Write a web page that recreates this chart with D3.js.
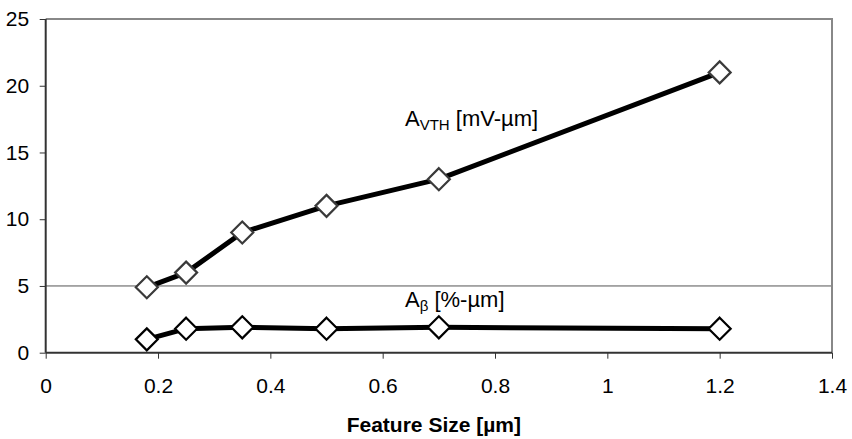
<!DOCTYPE html>
<html>
<head>
<meta charset="utf-8">
<script src="https://cdn.jsdelivr.net/npm/d3@7"></script>
<style>
  html, body { margin: 0; padding: 0; background: #fff; }
  svg { display: block; font-family: "Liberation Sans", Arial, sans-serif; }
</style>
</head>
<body>
<svg id="chart" width="852" height="439"></svg>
<script>
// Feature size (µm) for each measured process node
const featureSize = [0.18, 0.25, 0.35, 0.5, 0.7, 1.2];
// Threshold-voltage matching coefficient A_VTH [mV-µm]
const aVth = [4.9, 6, 9, 11, 13, 21];
// Current-factor matching coefficient A_β [%-µm]
const aBeta = [1.0, 1.8, 1.9, 1.8, 1.9, 1.8];

const xTicks = [0, 0.2, 0.4, 0.6, 0.8, 1, 1.2, 1.4];
const yTicks = [0, 5, 10, 15, 20, 25];
const gridValues = [5];

const svg = d3.select("#chart");
const plotLeft = 45.7, plotRight = 832, plotTop = 19, plotBottom = 352.7;

const x = d3.scaleLinear().domain([0, 1.4]).range([plotLeft, plotRight]);
const y = d3.scaleLinear().domain([0, 25]).range([plotBottom, plotTop]);

// horizontal gridline
svg.append("g").selectAll("line").data(gridValues).join("line")
  .attr("x1", plotLeft).attr("x2", plotRight)
  .attr("y1", d => y(d)).attr("y2", d => y(d))
  .attr("stroke", "#555").attr("stroke-width", 1);

// plot frame (top and right)
svg.append("path")
  .attr("d", `M${plotLeft},${plotTop}H${plotRight}V${plotBottom}`)
  .attr("fill", "none").attr("stroke", "#888").attr("stroke-width", 2);

// axes
const yAxis = svg.append("g")
  .attr("transform", `translate(${plotLeft},0)`)
  .call(d3.axisLeft(y).tickValues(yTicks).tickSize(6).tickPadding(10.5).tickFormat(d3.format("d")));
const xAxis = svg.append("g")
  .attr("transform", `translate(0,${plotBottom})`)
  .call(d3.axisBottom(x).tickValues(xTicks).tickSize(6).tickPadding(19).tickFormat(d => d3.format("~g")(d)));

[yAxis, xAxis].forEach(a => {
  a.select(".domain").attr("stroke", "#333").attr("stroke-width", 2);
  a.selectAll(".tick line").attr("stroke", "#333").attr("stroke-width", 1);
  a.selectAll(".tick text").attr("fill", "#000").attr("font-size", 21)
    .attr("font-family", "Liberation Sans, Arial, sans-serif");
});
xAxis.select(".domain").attr("d", `M${plotLeft},0H${plotRight}`);
yAxis.select(".domain").attr("d", `M0,${plotBottom}V${plotTop}`);

const line = d3.line().x(d => x(d[0])).y(d => y(d[1]));

function drawSeries(values, markerStroke) {
  const pts = featureSize.map((f, i) => [f, values[i]]);
  svg.append("path").datum(pts)
    .attr("d", line).attr("fill", "none")
    .attr("stroke", "#000").attr("stroke-width", 5).attr("stroke-linejoin", "round");
  const h = 11;
  svg.append("g").selectAll("path").data(pts).join("path")
    .attr("d", d => {
      const cx = x(d[0]), cy = y(d[1]);
      return `M${cx},${cy - h}L${cx + h},${cy}L${cx},${cy + h}L${cx - h},${cy}Z`;
    })
    .attr("fill", "#fff").attr("stroke", markerStroke).attr("stroke-width", 2.2);
}
drawSeries(aVth, "#3a3a3a");
drawSeries(aBeta, "#000");

// series labels
function seriesLabel(px, py, sub, rest) {
  const t = svg.append("text").attr("x", px).attr("y", py)
    .attr("font-size", 22).attr("fill", "#000");
  t.append("tspan").text("A");
  t.append("tspan").attr("font-size", 15).attr("dy", 4).text(sub);
  t.append("tspan").attr("dy", -4).text(" " + rest);
}
seriesLabel(405, 126, "VTH", "[mV-µm]");
seriesLabel(405, 307, "β", "[%-µm]");

// x-axis title
svg.append("text")
  .attr("x", (plotLeft + plotRight) / 2 - 5).attr("y", 432)
  .attr("text-anchor", "middle")
  .attr("font-size", 21).attr("font-weight", "bold")
  .text("Feature Size [µm]");
</script>
</body>
</html>
